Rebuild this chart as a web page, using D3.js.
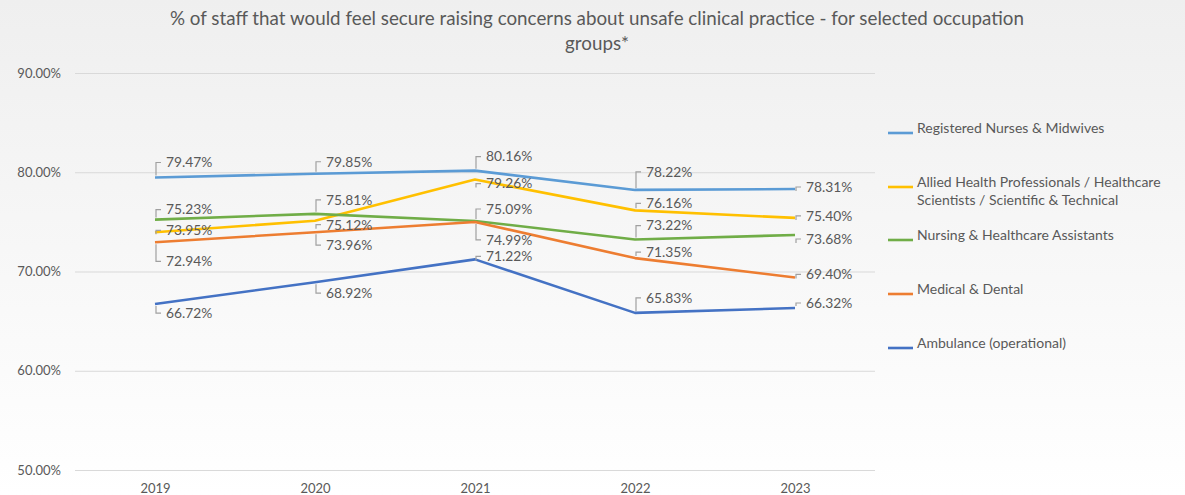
<!DOCTYPE html>
<html>
<head>
<meta charset="utf-8">
<script src="https://cdn.jsdelivr.net/npm/d3@7"></script>
<style>
  html, body { margin: 0; padding: 0; }
  text { font-family: Lato, "Open Sans", sans-serif; fill: #595959; }
</style>
</head>
<body>
<script>
// data
var years = ["2019", "2020", "2021", "2022", "2023"];
var seriesNames = [
  "Registered Nurses & Midwives",
  "Allied Health Professionals / Healthcare Scientists / Scientific & Technical",
  "Nursing & Healthcare Assistants",
  "Medical & Dental",
  "Ambulance (operational)"
];
var nurses    = [79.47, 79.85, 80.16, 78.22, 78.31];
var allied    = [73.95, 75.12, 79.26, 76.16, 75.40];
var assistants = [75.23, 75.81, 75.09, 73.22, 73.68];
var medical   = [72.94, 73.96, 74.99, 71.35, 69.40];
var ambulance = [66.72, 68.92, 71.22, 65.83, 66.32];
var yTicks = [50, 60, 70, 80, 90];

var colors = ["#5b9bd5", "#ffc000", "#70ad47", "#ed7d31", "#4472c4"];
var legendLines = [
  ["Registered Nurses & Midwives"],
  ["Allied Health Professionals / Healthcare", "Scientists / Scientific & Technical"],
  ["Nursing & Healthcare Assistants"],
  ["Medical & Dental"],
  ["Ambulance (operational)"]
];
// vertical offset (px) of each data label from its point, as placed in the original
var labelDy = [
  [-15, -12, -14, -18, -2],
  [-2, 4, 4, -7, -2],
  [-10, -14, -12, -14, 4],
  [19, 13, 18, -6, -3],
  [9, 11, -3, -15, -5]
];

var series = [nurses, allied, assistants, medical, ambulance].map(function(v, i) {
  return { name: seriesNames[i], values: v, color: colors[i], dy: labelDy[i] };
});

var width = 1185, height = 495;
var svg = d3.select("body").append("svg")
  .attr("width", width)
  .attr("height", height);

var grad = svg.append("defs").append("linearGradient")
  .attr("id", "bg").attr("x1", 0).attr("y1", 0).attr("x2", 0).attr("y2", 1);
grad.append("stop").attr("offset", "0%").attr("stop-color", "#efefef");
grad.append("stop").attr("offset", "100%").attr("stop-color", "#ffffff");
svg.append("rect").attr("width", width).attr("height", height).attr("fill", "url(#bg)");

var x = d3.scalePoint().domain(years).range([155, 795]);
var y = d3.scaleLinear().domain([50, 90]).range([470, 73]);

// title
svg.append("text")
  .attr("x", 597).attr("y", 25)
  .attr("text-anchor", "middle")
  .style("font-size", "18.8px")
  .selectAll("tspan")
  .data(["% of staff that would feel secure raising concerns about unsafe clinical practice - for selected occupation", "groups*"])
  .enter().append("tspan")
    .attr("x", 597)
    .attr("dy", function(d, i) { return i ? 25 : 0; })
    .text(function(d) { return d; });

// gridlines + y labels
var yAxis = svg.append("g")
  .attr("transform", "translate(75,0)")
  .call(d3.axisLeft(y).tickValues(yTicks).tickSize(-800)
    .tickFormat(function(d) { return d3.format(".2f")(d) + "%"; }));
yAxis.select(".domain").remove();
yAxis.selectAll(".tick line").attr("stroke", "#d9d9d9");
yAxis.selectAll(".tick text").attr("x", -14).style("font-size", "13px").attr("fill", "#595959");

// x labels
var xAxis = svg.append("g")
  .attr("transform", "translate(0,470)")
  .call(d3.axisBottom(x).tickSize(0));
xAxis.select(".domain").remove();
xAxis.selectAll(".tick text").attr("dy", 0).attr("y", 23).style("font-size", "13px").attr("fill", "#595959");

var line = d3.line()
  .x(function(d, i) { return x(years[i]); })
  .y(function(d) { return y(d); });

svg.append("g").selectAll("path")
  .data(series)
  .enter().append("path")
    .attr("d", function(s) { return line(s.values); })
    .attr("fill", "none")
    .attr("stroke", function(s) { return s.color; })
    .attr("stroke-width", 2.6)
    .attr("stroke-linejoin", "round");

// data labels with leader brackets
var pts = [];
series.forEach(function(s) {
  s.values.forEach(function(v, i) {
    pts.push({ v: v, px: x(years[i]), py: y(v), ly: y(v) + s.dy[i] });
  });
});

var lab = svg.append("g");
lab.selectAll("path")
  .data(pts)
  .enter().append("path")
    .attr("d", function(d) {
      var dir = d.ly < d.py ? -1 : 1;
      var y0 = Math.abs(d.ly - d.py) > 4 ? d.py + dir * 2 : d.ly + 4;
      return "M" + (d.px + 1) + "," + y0 + "V" + d.ly + "H" + (d.px + 6);
    })
    .attr("fill", "none")
    .attr("stroke", "#a0a0a0")
    .attr("stroke-width", 1.2);
lab.selectAll("text")
  .data(pts)
  .enter().append("text")
    .attr("x", function(d) { return d.px + 11; })
    .attr("y", function(d) { return d.ly; })
    .attr("dy", "0.35em")
    .style("font-size", "13.8px")
    .text(function(d) { return d3.format(".2f")(d.v) + "%"; });

// legend
var legendY = [133, 187, 240, 294, 348];
var leg = svg.append("g").selectAll("g")
  .data(series)
  .enter().append("g")
    .attr("transform", function(d, i) { return "translate(888," + legendY[i] + ")"; });
leg.append("line")
  .attr("x1", 0).attr("x2", 25)
  .attr("stroke", function(d) { return d.color; })
  .attr("stroke-width", 2.6);
leg.append("text")
  .attr("x", 29)
  .attr("dy", "0.35em")
  .style("font-size", "14px")
  .selectAll("tspan")
  .data(function(d, i) { return legendLines[i]; })
  .enter().append("tspan")
    .attr("x", 29)
    .attr("dy", function(d, i) { return i ? "1.3em" : 0; })
    .text(function(d) { return d; });
</script>
</body>
</html>
